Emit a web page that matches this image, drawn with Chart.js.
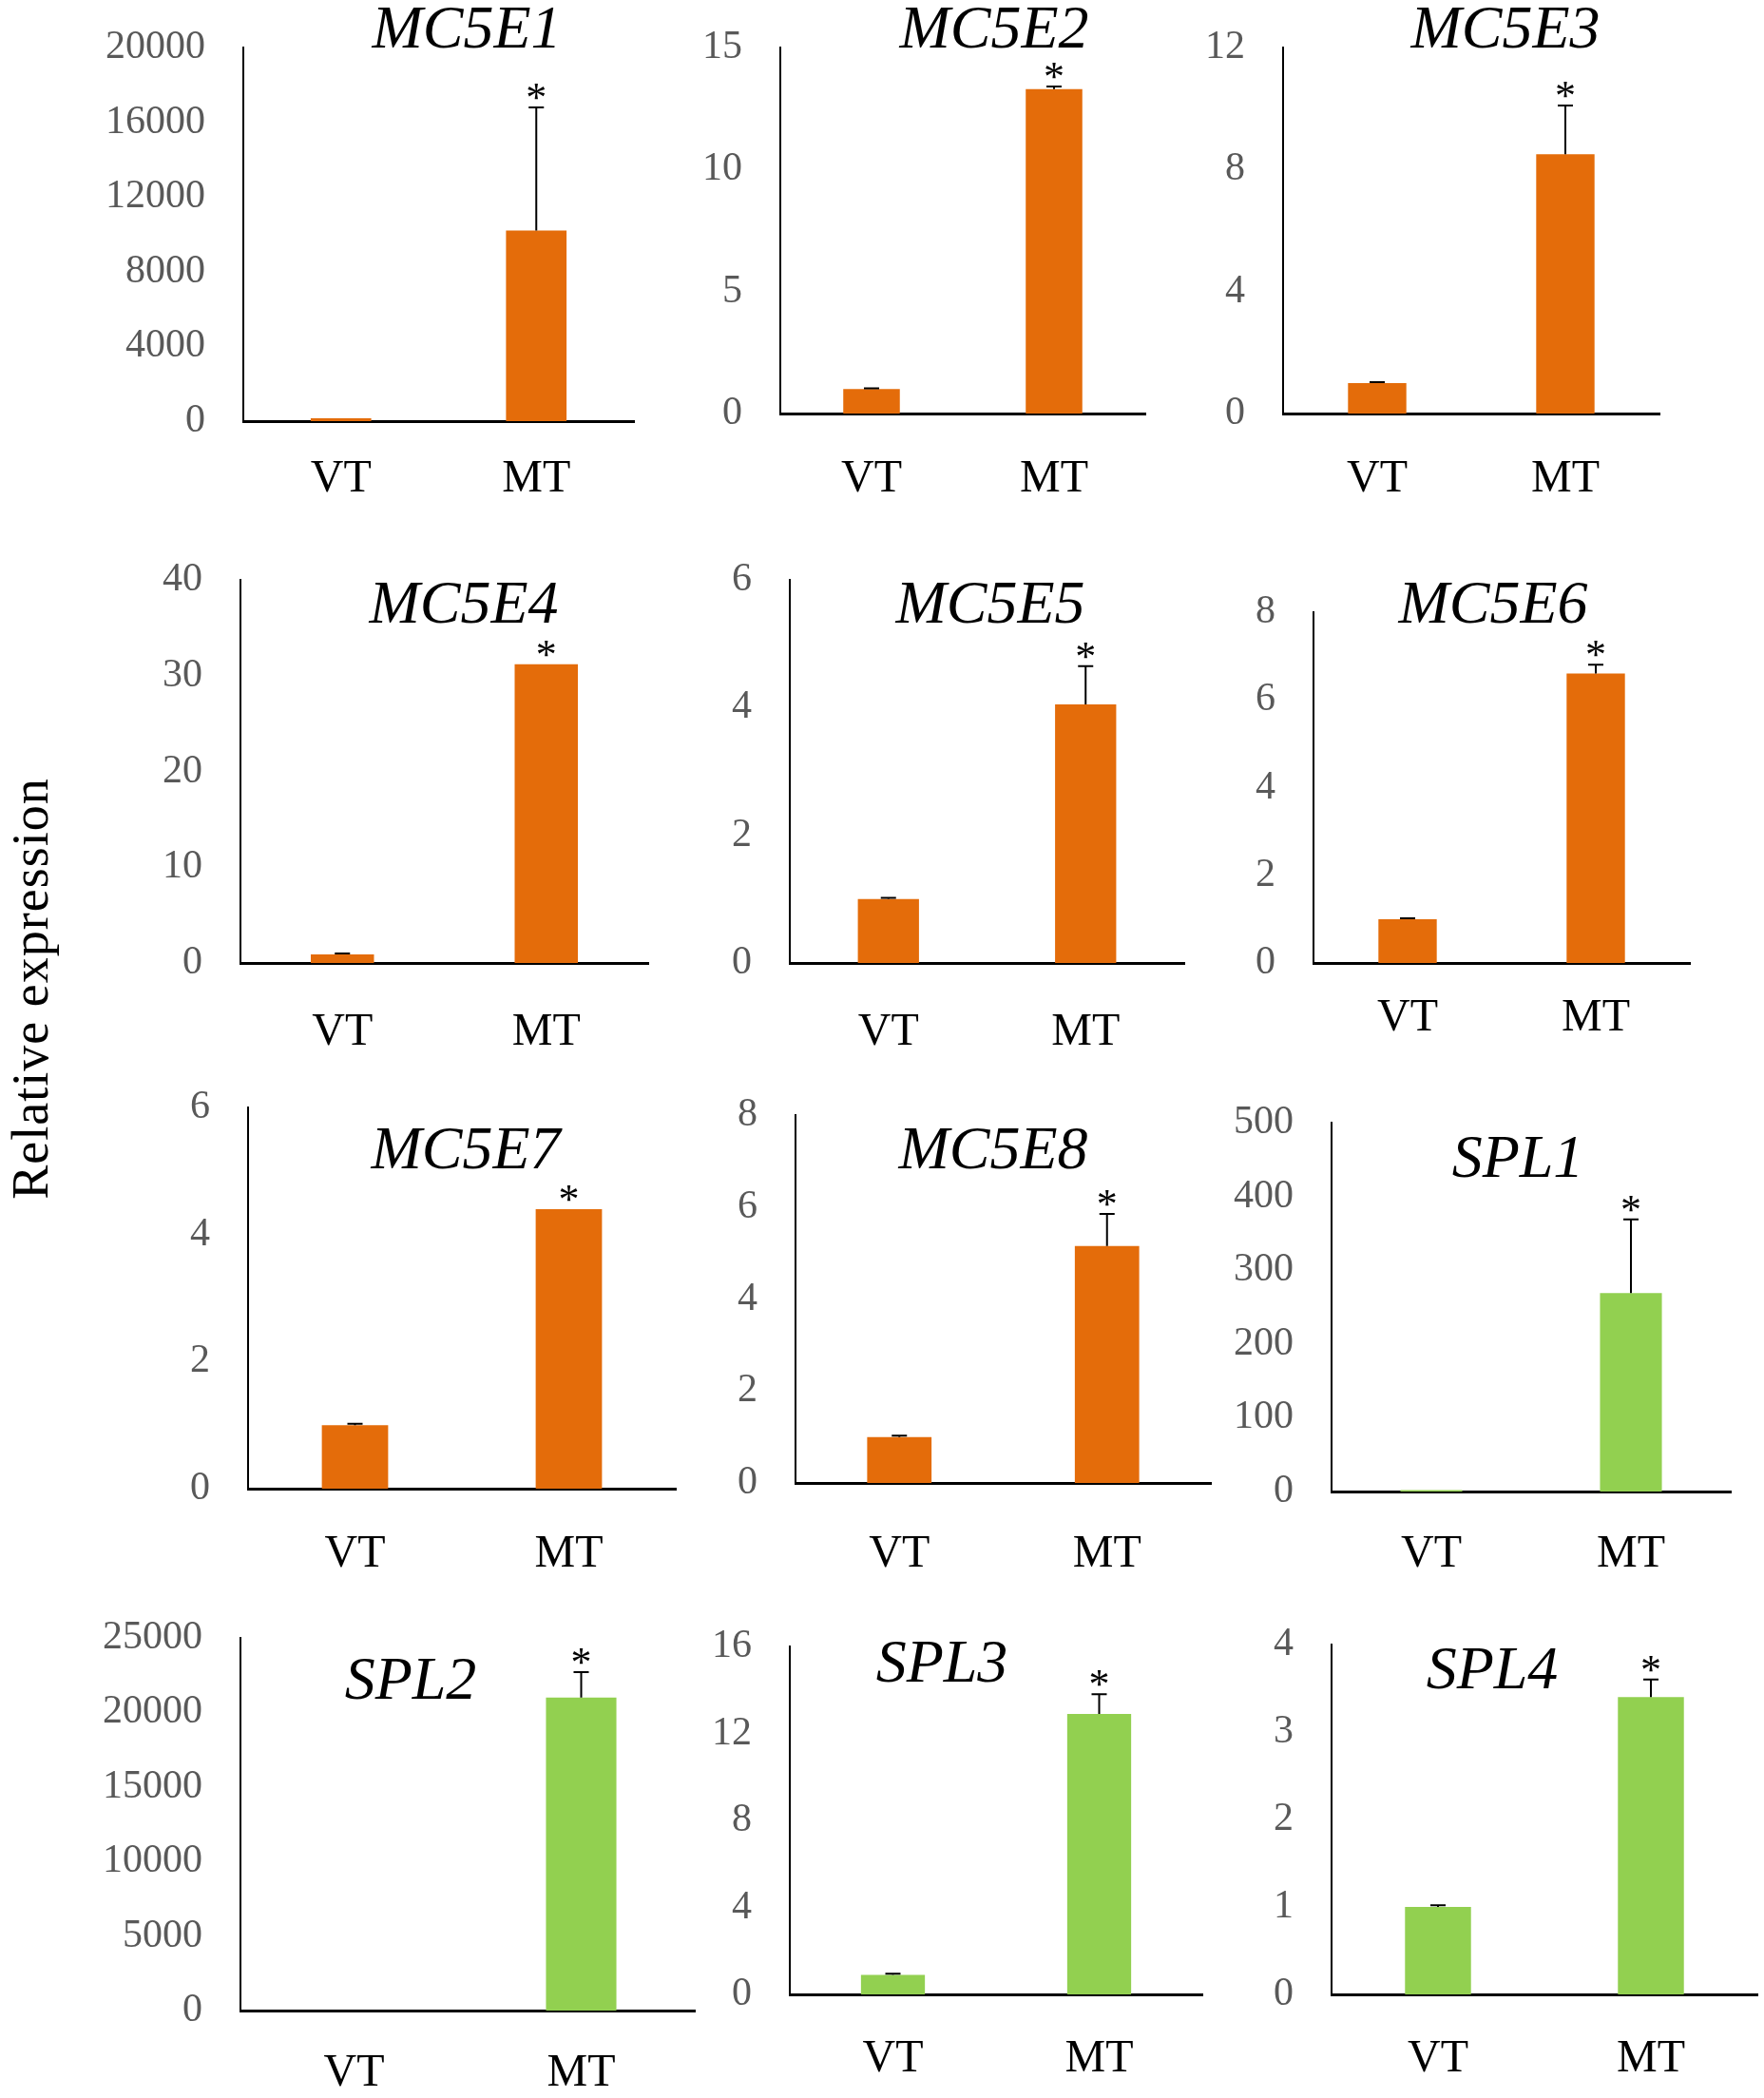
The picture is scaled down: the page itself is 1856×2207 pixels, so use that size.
<!DOCTYPE html>
<html>
<head>
<meta charset="utf-8">
<script src="https://cdn.jsdelivr.net/npm/chart.js"></script>
<style>
body { margin: 0; background: #fff; width: 1856px; height: 2207px; position: relative; overflow: hidden; }
canvas { position: absolute; }
#ylab {
    position: absolute; left: 32px; top: 1040px;
    transform: translate(-50%, -50%) rotate(-90deg);
    font: 54px "Liberation Serif"; letter-spacing: 1px; white-space: nowrap; color: #000;
}
</style>
</head>
<body>
<div id="ylab">Relative expression</div>
<script>
// gene panels, left-to-right, top-to-bottom
const genes = ['MC5E1', 'MC5E2', 'MC5E3', 'MC5E4', 'MC5E5', 'MC5E6',
               'MC5E7', 'MC5E8', 'SPL1', 'SPL2', 'SPL3', 'SPL4'];
const categories = ['VT', 'MT'];

// mean relative expression
const vtMeans = [150, 1.0, 1.0, 0.9, 1.0, 1.0, 1.0, 1.0, 2, 1, 0.9, 1.0];
const mtMeans = [10200, 13.3, 8.5, 31.2, 4.05, 6.6, 4.4, 5.15, 269, 21000, 12.9, 3.4];

// error (upper bar only)
const vtSD = [0, 0.03, 0.03, 0.1, 0.02, 0.02, 0.02, 0.03, 0, 0, 0.05, 0.02];
const mtSD = [6600, 0.1, 1.6, 0, 0.6, 0.2, 0, 0.7, 100, 1700, 0.9, 0.2];

// y axis ticks
const yMax  = [20000, 15, 12, 40, 6, 8, 6, 8, 500, 25000, 16, 4];
const yStep = [4000, 5, 4, 10, 2, 2, 2, 2, 100, 5000, 4, 1];

const ORANGE = '#E46C0A';
const GREEN = '#92D050';
const barColor = [ORANGE, ORANGE, ORANGE, ORANGE, ORANGE, ORANGE, ORANGE, ORANGE,
                  GREEN, GREEN, GREEN, GREEN];

// plot boxes on the page (axis left/top/right/bottom), title anchor, label offset
const boxes = [
    { l: 256,  t: 50,   r: 667,  b: 443,  tx: 491,  ty: 50,   lab: 62 },
    { l: 821,  t: 50,   r: 1205, b: 435,  tx: 1046, ty: 50,   lab: 70 },
    { l: 1350, t: 50,   r: 1746, b: 435,  tx: 1584, ty: 50,   lab: 70 },
    { l: 253,  t: 610,  r: 682,  b: 1013, tx: 488,  ty: 655,  lab: 74 },
    { l: 831,  t: 610,  r: 1246, b: 1013, tx: 1042, ty: 655,  lab: 74 },
    { l: 1382, t: 644,  r: 1778, b: 1013, tx: 1571, ty: 655,  lab: 59 },
    { l: 261,  t: 1165, r: 711,  b: 1566, tx: 490,  ty: 1229, lab: 70 },
    { l: 837,  t: 1173, r: 1274, b: 1560, tx: 1045, ty: 1229, lab: 76 },
    { l: 1401, t: 1181, r: 1821, b: 1569, tx: 1597, ty: 1238, lab: 67 },
    { l: 253,  t: 1723, r: 731,  b: 2115, tx: 432,  ty: 1787, lab: 67 },
    { l: 831,  t: 1732, r: 1265, b: 2098, tx: 991,  ty: 1769, lab: 69 },
    { l: 1401, t: 1730, r: 1849, b: 2098, tx: 1570, ty: 1776, lab: 69 }
];

const PADL = 200, PADT = 100, PADR = 6, PADB = 130;
const SERIF = '"Liberation Serif", "Times New Roman", serif';

// error bars, stars and gene titles
function overlay(i) {
    const bx = boxes[i];
    return {
        id: 'overlay' + i,
        afterDatasetsDraw(chart) {
            const ctx = chart.ctx;
            const y = chart.scales.y;
            const meta = chart.getDatasetMeta(0);
            const means = [vtMeans[i], mtMeans[i]];
            const sds = [vtSD[i], mtSD[i]];
            ctx.save();
            ctx.strokeStyle = '#000';
            ctx.lineWidth = 2;
            sds.forEach(function(sd, k) {
                if (sd <= 0) return;
                const bar = meta.data[k];
                const ey = y.getPixelForValue(means[k] + sd);
                ctx.beginPath();
                ctx.moveTo(bar.x, bar.y);
                ctx.lineTo(bar.x, ey);
                ctx.moveTo(bar.x - 8, ey);
                ctx.lineTo(bar.x + 8, ey);
                ctx.stroke();
            });
            const mt = meta.data[1];
            const topY = y.getPixelForValue(mtMeans[i] + mtSD[i]);
            ctx.fillStyle = '#000';
            ctx.textAlign = 'center';
            ctx.textBaseline = 'alphabetic';
            ctx.font = '44px ' + SERIF;
            ctx.fillText('*', mt.x, topY + 4);
            ctx.font = 'italic 64px ' + SERIF;
            ctx.fillText(genes[i], bx.tx - (bx.l - PADL), bx.ty - (bx.t - PADT));
            ctx.restore();
        }
    };
}

genes.forEach(function(gene, i) {
    const bx = boxes[i];
    const w = bx.r - bx.l + PADL + PADR;
    const h = bx.b - bx.t + PADT + PADB;
    const cv = document.createElement('canvas');
    cv.width = w;
    cv.height = h;
    cv.style.left = (bx.l - PADL) + 'px';
    cv.style.top = (bx.t - PADT) + 'px';
    cv.style.width = w + 'px';
    cv.style.height = h + 'px';
    document.body.appendChild(cv);

    new Chart(cv, {
        type: 'bar',
        data: {
            labels: categories,
            datasets: [{
                data: [vtMeans[i], mtMeans[i]],
                backgroundColor: barColor[i],
                borderWidth: 0,
                barPercentage: 0.31,
                categoryPercentage: 1
            }]
        },
        options: {
            responsive: false,
            animation: false,
            layout: { padding: { left: 0, top: PADT, right: PADR, bottom: 0 } },
            plugins: { legend: { display: false }, tooltip: { enabled: false } },
            scales: {
                x: {
                    grid: { display: false, drawTicks: false },
                    border: { color: '#000', width: 3 },
                    ticks: { color: '#000', font: { family: SERIF, size: 48 }, padding: bx.lab - 29 },
                    afterFit: function(s) { s.height = PADB; }
                },
                y: {
                    min: 0,
                    max: yMax[i],
                    grid: { display: false, drawTicks: false },
                    border: { color: '#000', width: 2 },
                    ticks: {
                        stepSize: yStep[i],
                        color: '#595959',
                        font: { family: SERIF, size: 42 },
                        padding: 40,
                        callback: function(v) { return String(v); }
                    },
                    afterFit: function(s) { s.width = PADL; }
                }
            }
        },
        plugins: [overlay(i)]
    });
});
</script>
</body>
</html>
